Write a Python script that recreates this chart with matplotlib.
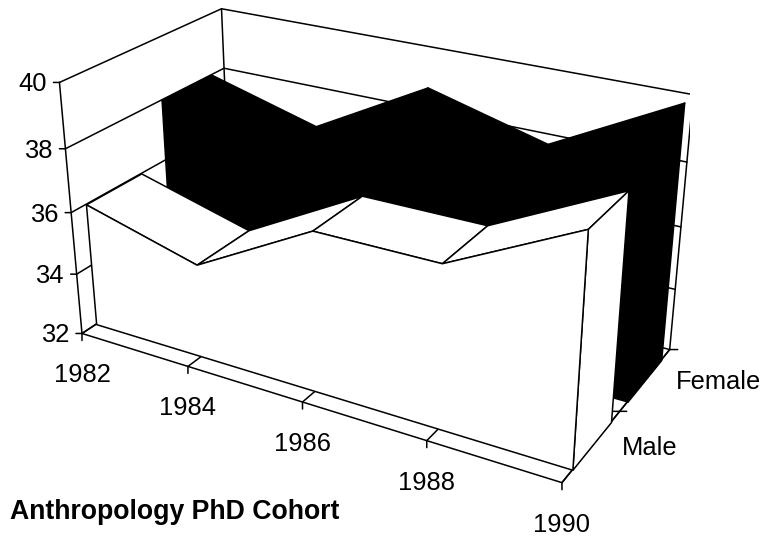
import matplotlib
matplotlib.use('Agg')
import matplotlib.pyplot as plt
from mpl_toolkits.mplot3d import proj3d
from mpl_toolkits.mplot3d.art3d import Poly3DCollection

plt.rcParams['font.family'] = ['Liberation Sans', 'DejaVu Sans']

# ── data ──────────────────────────────────────────────────────────────────────
years = [1982, 1984, 1986, 1988, 1990]
male = [36.0, 35.0, 37.0, 37.0, 38.9]
female = [38.0, 37.0, 39.0, 38.0, 40.0]
age_ticks = [32, 34, 36, 38, 40]
sexes = ['Male', 'Female']

# ── camera, fitted to the reference's box corners ─────────────────────────────
W, H = 767, 538
SCALE, CX, CY = 3522.6, 373.06, 219.71
BASE = 32
M_DEPTH = (0.085, 0.42)
F_DEPTH = (0.575, 0.91)
LW = 1.1

fig = plt.figure(figsize=(W / 100, H / 100), dpi=100)
ax = fig.add_axes([0, 0, 1, 1], projection='3d', computed_zorder=False)
ax.set_xlim(years[0], years[-1])
ax.set_ylim(0, 1)
ax.set_zlim(age_ticks[0], age_ticks[-1])
ax.view_init(elev=25.022, azim=-60.123)
ax.set_proj_type('persp', focal_length=0.445)
ax.set_box_aspect((1, 0.503, 0.511))
ax.set_axis_off()
vl = ax.viewLim
ax.set_position([(CX + SCALE * vl.x0) / W, (H - CY + SCALE * vl.y0) / H,
                 SCALE * vl.width / W, SCALE * vl.height / H])


def line(xs, ys, zs, zorder=1):
    ax.plot(xs, ys, zs, color='k', lw=LW, zorder=zorder, solid_capstyle='round')


def face(verts, fc, zorder):
    ax.add_collection3d(Poly3DCollection([verts], facecolors=fc, edgecolors=fc if fc == 'k' else 'k',
                                         linewidths=LW, zorder=zorder))


def label(x, y, z, text, dx, dy, ha='center', ticks=()):
    """Tick marks and label placed a fixed pixel offset from a data point."""
    u, v, _ = proj3d.proj_transform(x, y, z, ax.get_proj())
    for tick in ticks:
        ax.annotate('', xy=(u, v), xytext=tick, textcoords='offset pixels',
                    arrowprops=dict(arrowstyle='-', lw=LW, color='k', shrinkA=0, shrinkB=0))
    ax.annotate(text, xy=(u, v), xytext=(dx, dy), textcoords='offset pixels',
                ha=ha, va='center', fontsize=18.4, color='k')


# ── walls and floor ───────────────────────────────────────────────────────────
x0, x1 = years[0], years[-1]
for z in age_ticks:
    line([x0, x0, x1], [0, 1, 1], [z, z, z])
for x, y in [(x0, 0), (x0, 1), (x1, 1)]:
    line([x, x], [y, y], [BASE, age_ticks[-1]])
line([x0, x1, x1], [0, 0, 1], [BASE, BASE, BASE])
for x in years:
    line([x, x], [0, 1], [BASE, BASE])

# ── ribbons: female behind, then male ─────────────────────────────────────────
for vals, (y0, y1), fc, zo in [(female, F_DEPTH, 'k', 3), (male, M_DEPTH, 'white', 5)]:
    for i in range(len(years) - 1):
        face([(years[i], y0, vals[i]), (years[i], y1, vals[i]),
              (years[i + 1], y1, vals[i + 1]), (years[i + 1], y0, vals[i + 1])], fc, zo)
    face([(x1, y0, vals[-1]), (x1, y1, vals[-1]), (x1, y1, BASE), (x1, y0, BASE)], fc, zo + 0.1)
    front = [(x, y0, v) for x, v in zip(years, vals)] + [(x1, y0, BASE), (x0, y0, BASE)]
    face(front, fc, zo + 0.2)

# ── ticks and labels ──────────────────────────────────────────────────────────
for z in age_ticks:
    label(x0, 0, z, str(z), -13, -2, ha='right', ticks=[(-6, 0)])
for x in years:
    label(x, 0, BASE, str(x), 0, -42, ticks=[(0, -7)])
label(x1, 0.5, BASE, sexes[0], 2, -37, ha='left', ticks=[(7, 0), (-7, 0)])
label(x1, 1, BASE, sexes[1], 6, -32, ha='left', ticks=[(8, 0)])

fig.text(10 / W, 1 - 512 / H, 'Anthropology PhD Cohort', fontsize=19.2, fontweight='bold',
         ha='left', va='center')

fig.savefig('out.png', dpi=100)
